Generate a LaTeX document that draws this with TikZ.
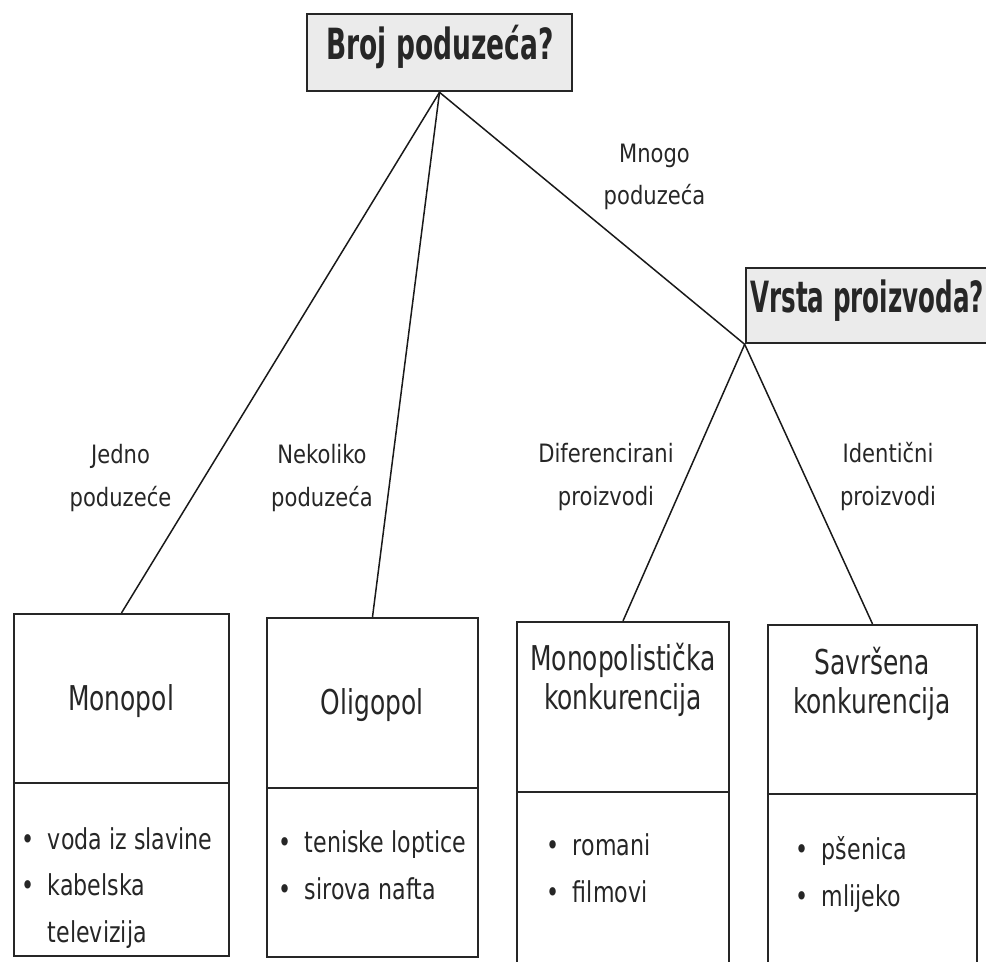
\documentclass[tikz,border=0pt]{standalone}
\usepackage{fontspec}
\setmainfont{DejaVu Sans}
\usepackage{graphicx}
\usetikzlibrary{fit}
\tikzset{>=latex}
\tikzset{
	okvir/.style={draw=black!85, line width=1.2pt, inner sep=0pt},
	pitanje/.style={okvir, fill=black!8, line width=1.5pt},
	crta/.style={draw=black!85, line width=1.2pt},
	grana/.style={draw=black!90, line width=0.85pt},
	oznaka/.style={text=black!85, inner sep=0pt, font=\fontsize{12}{20}\selectfont},
	naslov/.style={text=black!85, inner sep=0pt, font=\fontsize{14.2}{16.1}\selectfont},
	popis/.style={text=black!85, inner sep=0pt, anchor=west, font=\fontsize{12.6}{20.5}\selectfont},
	upit/.style={text=black!85, inner sep=0pt, font=\fontsize{15.1}{17}\selectfont\bfseries}
}
\newcommand{\rastegni}[2][1.2]{\scalebox{1}[#1]{\begin{tabular}{@{}c@{}}#2\end{tabular}}}
\newcommand{\lijevo}[2][1.3]{\scalebox{1}[#1]{\begin{tabular}{@{}l@{}}#2\end{tabular}}}
\newcommand{\stavka}{\makebox[1.2em][l]{\textbullet}}

\begin{document}
\begin{tikzpicture}[x=0.02cm, y=-0.02cm]
			% Frame
			\useasboundingbox (0,0) rectangle (986,962);
			\clip (0,0) rectangle (986,962);
			
			% Questions
			\node[pitanje, fit={(307,14) (572,91)}] (broj) {};
			\node[upit] (brojtxt) at (440,50) {\rastegni[1.62]{Broj poduzeća?}};
			\node[pitanje, fit={(746,268) (1000,343)}] (vrsta) {};
			\node[upit, anchor=west, font=\fontsize{14}{16}\selectfont\bfseries] (vrstatxt) at (750,303) {\lijevo[1.75]{Vrsta proizvoda?}};
			
			% Market boxes
			\node[okvir, fit={(14,614) (229,956)}] (mono) {};
			\node[okvir, fit={(267,618) (478,957)}] (oli) {};
			\node[okvir, fit={(517,622) (729,975)}] (mpk) {};
			\node[okvir, fit={(768,625) (977,975)}] (sav) {};
			%% Dividers
			\draw[crta] (mono.west |- 0,783) -- (mono.east |- 0,783);
			\draw[crta] (oli.west |- 0,788) -- (oli.east |- 0,788);
			\draw[crta] (mpk.west |- 0,792) -- (mpk.east |- 0,792);
			\draw[crta] (sav.west |- 0,794) -- (sav.east |- 0,794);
			
			% Branches
			\draw[grana] (broj.south) -- (mono.north);
			\draw[grana] (broj.south) -- (oli.north);
			\draw[grana] (broj.south) -- (vrsta.south west);
			\draw[grana] (vrsta.south west) -- (mpk.north);
			\draw[grana] (vrsta.south west) -- (sav.north);
			
			% Branch labels
			\node[oznaka] (mnogo) at (654.5,175) {\rastegni{Mnogo\\poduzeća}};
			\node[oznaka] (jedno) at (120.5,476.5) {\rastegni{Jedno\\poduzeće}};
			\node[oznaka] (nekoliko) at (322,476.5) {\rastegni{Nekoliko\\poduzeća}};
			\node[oznaka] (difer) at (606,475.5) {\rastegni{Diferencirani\\proizvodi}};
			\node[oznaka] (ident) at (888,475.5) {\rastegni{Identični\\proizvodi}};
			
			% Box titles
			\node[naslov] (monotxt) at (121,703) {\rastegni[1.37]{Monopol}};
			\node[naslov] (olitxt) at (372,707) {\rastegni[1.37]{Oligopol}};
			\node[naslov] (mpktxt) at (623,682.5) {\rastegni[1.37]{Monopolistička\\konkurencija}};
			\node[naslov] (savtxt) at (872,686) {\rastegni[1.37]{Savršena\\konkurencija}};
			
			% Examples
			\node[popis] (monopop) at (21,886.5) {\lijevo{\stavka voda iz slavine\\\stavka kabelska\\\hspace{1.2em}televizija}};
			\node[popis] (olipop) at (278,866.5) {\lijevo{\stavka teniske loptice\\\stavka sirova nafta}};
			\node[popis] (mpkpop) at (546,870) {\lijevo{\stavka romani\\\stavka filmovi}};
			\node[popis] (savpop) at (795,873.5) {\lijevo{\stavka pšenica\\\stavka mlijeko}};
		\end{tikzpicture}
\end{document}
